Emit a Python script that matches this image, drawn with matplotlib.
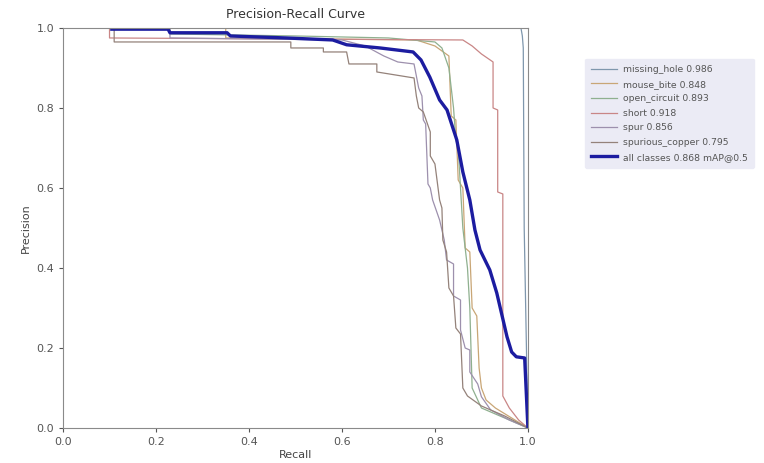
import matplotlib
matplotlib.use("Agg")
import matplotlib.pyplot as plt

# PR curves per class as (recall, precision) vertices
names = ["missing_hole", "mouse_bite", "open_circuit", "short", "spur", "spurious_copper"]
ap = [0.986, 0.848, 0.893, 0.918, 0.856, 0.795]
map50 = 0.868

missing_hole_r = [0.0, 0.985, 0.988, 0.990, 0.992, 1.0]
missing_hole_p = [1.0, 1.0, 0.98, 0.95, 0.5, 0.0]

mouse_bite_r = [0.0, 0.35, 0.35, 0.76, 0.80, 0.83, 0.835, 0.845, 0.85, 0.86, 0.865, 0.875,
                0.88, 0.89, 0.895, 0.90, 0.91, 0.93, 1.0]
mouse_bite_p = [1.0, 1.0, 0.975, 0.97, 0.955, 0.93, 0.78, 0.77, 0.62, 0.60, 0.45, 0.44,
                0.30, 0.28, 0.15, 0.10, 0.07, 0.05, 0.0]

open_circuit_r = [0.0, 0.23, 0.23, 0.50, 0.70, 0.80, 0.815, 0.83, 0.835, 0.84, 0.845, 0.85,
                  0.855, 0.86, 0.87, 0.875, 0.88, 0.90, 1.0]
open_circuit_p = [1.0, 1.0, 0.985, 0.98, 0.975, 0.965, 0.95, 0.90, 0.85, 0.80, 0.72, 0.70,
                  0.60, 0.50, 0.40, 0.30, 0.10, 0.05, 0.0]

short_r = [0.0, 0.10, 0.10, 0.86, 0.88, 0.90, 0.925, 0.925, 0.935, 0.935, 0.946, 0.946,
           0.96, 0.98, 1.0]
short_p = [1.0, 1.0, 0.975, 0.97, 0.955, 0.935, 0.915, 0.80, 0.795, 0.59, 0.585, 0.08,
           0.05, 0.02, 0.0]

spur_r = [0.0, 0.23, 0.23, 0.60, 0.65, 0.69, 0.72, 0.755, 0.765, 0.772, 0.775, 0.78, 0.785,
          0.79, 0.795, 0.81, 0.82, 0.825, 0.84, 0.84, 0.855, 0.855, 0.865, 0.875, 0.875,
          0.892, 0.90, 0.92, 0.96, 1.0]
spur_p = [1.0, 1.0, 0.975, 0.97, 0.955, 0.93, 0.915, 0.91, 0.85, 0.83, 0.77, 0.76, 0.61,
          0.60, 0.57, 0.52, 0.47, 0.42, 0.41, 0.33, 0.32, 0.245, 0.20, 0.195, 0.14,
          0.11, 0.078, 0.045, 0.02, 0.0]

spurious_copper_r = [0.0, 0.11, 0.11, 0.49, 0.49, 0.56, 0.56, 0.61, 0.615, 0.675, 0.675, 0.755,
                     0.76, 0.765, 0.775, 0.79, 0.79, 0.80, 0.81, 0.815, 0.817, 0.825, 0.83,
                     0.84, 0.845, 0.855, 0.86, 0.87, 0.90, 0.95, 1.0]
spurious_copper_p = [1.0, 1.0, 0.965, 0.965, 0.95, 0.95, 0.94, 0.94, 0.91, 0.91, 0.89, 0.875,
                     0.83, 0.80, 0.79, 0.74, 0.68, 0.66, 0.57, 0.55, 0.47, 0.44, 0.35,
                     0.33, 0.25, 0.235, 0.10, 0.08, 0.055, 0.03, 0.0]

all_r = [0.105, 0.226, 0.23, 0.353, 0.36, 0.48, 0.58, 0.61, 0.682, 0.753, 0.77, 0.789, 0.81,
         0.826, 0.847, 0.86, 0.875, 0.886, 0.897, 0.918, 0.933, 0.955, 0.965, 0.975, 0.993, 1.0]
all_p = [0.997, 0.997, 0.988, 0.988, 0.98, 0.975, 0.97, 0.958, 0.95, 0.94, 0.92, 0.877, 0.82,
         0.795, 0.72, 0.64, 0.57, 0.495, 0.445, 0.395, 0.3375, 0.228, 0.19, 0.178, 0.175, 0.0]

curves = [
    (missing_hole_r, missing_hole_p),
    (mouse_bite_r, mouse_bite_p),
    (open_circuit_r, open_circuit_p),
    (short_r, short_p),
    (spur_r, spur_p),
    (spurious_copper_r, spurious_copper_p),
]
colors = ["#7f97ad", "#c9a676", "#8fb08f", "#c98686", "#9d90ad", "#94827a"]

fig = plt.figure(figsize=(7.64, 4.63), dpi=100)
ax = fig.add_axes([0.0825, 0.0756, 0.6085, 0.864])

for (r, p), name, a, c in zip(curves, names, ap, colors):
    ax.plot(r, p, linewidth=0.9, color=c, label=f"{name} {a:.3f}")

ax.plot(all_r, all_p, linewidth=2.4, color="#1c1ca0", label=f"all classes {map50:.3f} mAP@0.5")

ax.set_xlim(0, 1)
ax.set_ylim(0, 1)
ax.set_xlabel("Recall", fontsize=8, color="#444444", labelpad=2)
ax.set_ylabel("Precision", fontsize=8, color="#444444", labelpad=4)
ax.set_title("Precision-Recall Curve", fontsize=9, color="#333333", pad=7)
ax.tick_params(labelsize=8, colors="#555555", length=3)
for s in ax.spines.values():
    s.set_color("#8a8a8a")

leg = ax.legend(bbox_to_anchor=(1.112, 0.935), loc="upper left", fontsize=6.7,
                frameon=True, handlelength=2.8, labelspacing=0.6, borderpad=0.7,
                handletextpad=0.6)
leg.get_frame().set_facecolor("#ebebf5")
leg.get_frame().set_edgecolor("#ebebf5")
leg.get_frame().set_alpha(1)
for t in leg.get_texts():
    t.set_color("#555555")

fig.savefig("out.png", dpi=100)
